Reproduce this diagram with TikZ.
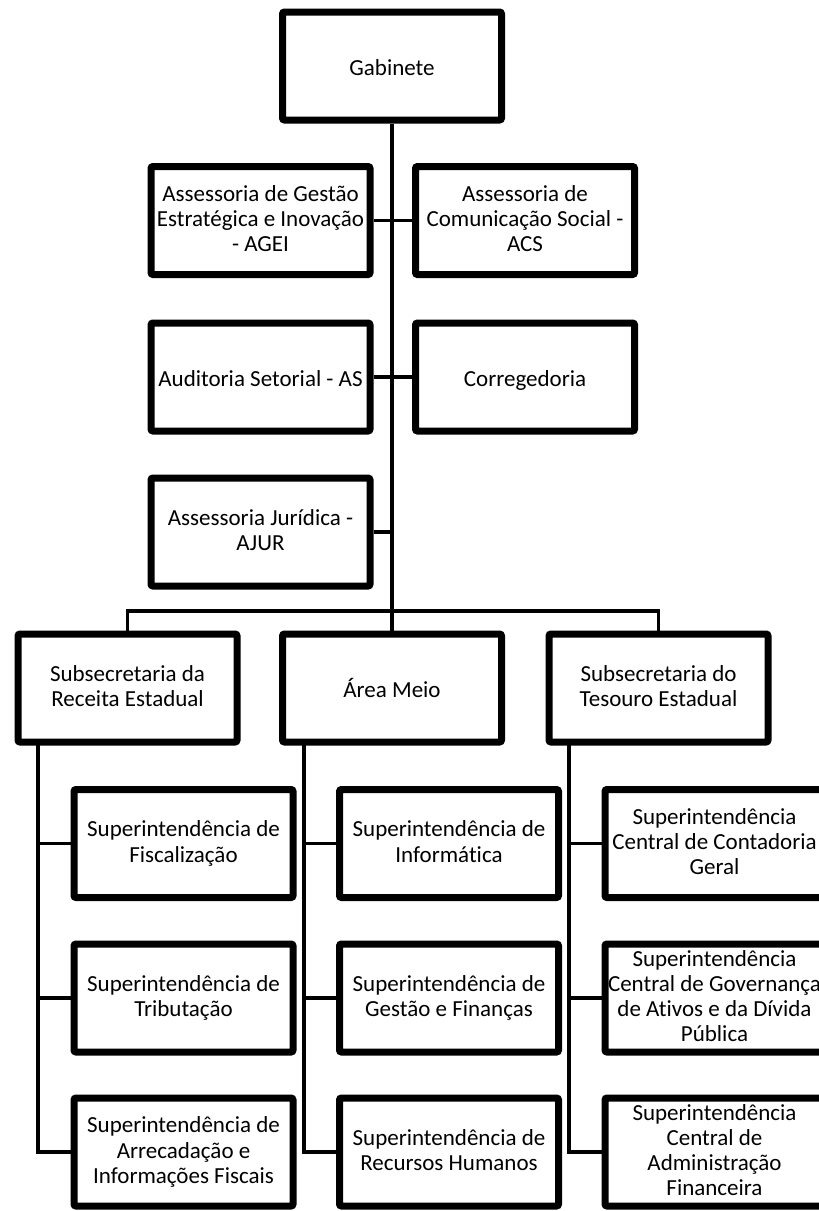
\documentclass[tikz,border=0pt]{standalone}
\usepackage{fontspec}
\setmainfont{Carlito}[Ligatures={NoCommon,NoRare,NoContextual}]
\usetikzlibrary{shadows}
\newcommand{\topstrut}{\rule{0pt}{22pt}}
\newcommand{\botstrut}{\rule[-4pt]{0pt}{4pt}}
\begin{document}
\begin{tikzpicture}[x=1pt,y=-1pt,
  box/.style={draw=black, line width=7pt, fill=white, rounded corners=2pt,
    minimum width=219pt, minimum height=108pt, align=center, inner sep=0pt,
    font=\fontsize{23}{25.2}\selectfont, text=black,
    execute at begin node=\topstrut, execute at end node=\botstrut,
    drop shadow={shadow xshift=2pt, shadow yshift=-2pt, opacity=0.25, fill=black}},
  link/.style={draw=black, line width=3.5pt}]
\useasboundingbox (0,0) rectangle (819,1211);
\clip (0,0) rectangle (819,1211);
\fill[white] (0,0) rectangle (819,1211);
\coordinate (bus) at (392,611);
\coordinate (jur) at (392,532);
\coordinate (spL) at (38,745);
\coordinate (spM) at (304,745);
\coordinate (spR) at (569,745);
\node[box] (gab) at (392,66) {Gabinete};
\node[box] (agei) at (260.5,220.5) {Assessoria de Gestão\\Estratégica e Inovação\\- AGEI};
\node[box] (acs) at (525,220.5) {Assessoria de\\Comunicação Social -\\ACS};
\node[box] (as) at (260.5,377) {Auditoria Setorial - AS};
\node[box] (cor) at (525,377) {Corregedoria};
\node[box] (ajur) at (260.5,532) {Assessoria Jurídica -\\AJUR};
\node[box] (rec) at (127.5,688) {Subsecretaria da\\Receita Estadual};
\node[box] (meio) at (392,688) {Área Meio};
\node[box] (tes) at (658.5,688) {Subsecretaria do\\Tesouro Estadual};
\node[box] (l1) at (183.5,843.5) {Superintendência de\\Fiscalização};
\node[box] (l2) at (183.5,998) {Superintendência de\\Tributação};
\node[box] (l3) at (183.5,1152) {Superintendência de\\Arrecadação e\\Informações Fiscais};
\node[box] (m1) at (449,843.5) {Superintendência de\\Informática};
\node[box] (m2) at (449,998) {Superintendência de\\Gestão e Finanças};
\node[box] (m3) at (449,1152) {Superintendência de\\Recursos Humanos};
\node[box] (r1) at (714.5,843.5) {Superintendência\\Central de Contadoria\\Geral};
\node[box] (r2) at (714.5,998) {Superintendência\\Central de Governança\\de Ativos e da Dívida\\Pública};
\node[box] (r3) at (714.5,1152) {Superintendência\\Central de\\Administração\\Financeira};
\draw[link] (gab.south) -- (meio.north);
\draw[link] (agei.east) -- (acs.west);
\draw[link] (as.east) -- (cor.west);
\draw[link] (ajur.east) -- (jur);
\draw[link] (rec.north) |- (bus) -| (tes.north);
\draw[link] (spL) |- (l3.west);
\draw[link] (spL |- l1.west) -- (l1.west);
\draw[link] (spL |- l2.west) -- (l2.west);
\draw[link] (spM) |- (m3.west);
\draw[link] (spM |- m1.west) -- (m1.west);
\draw[link] (spM |- m2.west) -- (m2.west);
\draw[link] (spR) |- (r3.west);
\draw[link] (spR |- r1.west) -- (r1.west);
\draw[link] (spR |- r2.west) -- (r2.west);
\end{tikzpicture}
\end{document}
